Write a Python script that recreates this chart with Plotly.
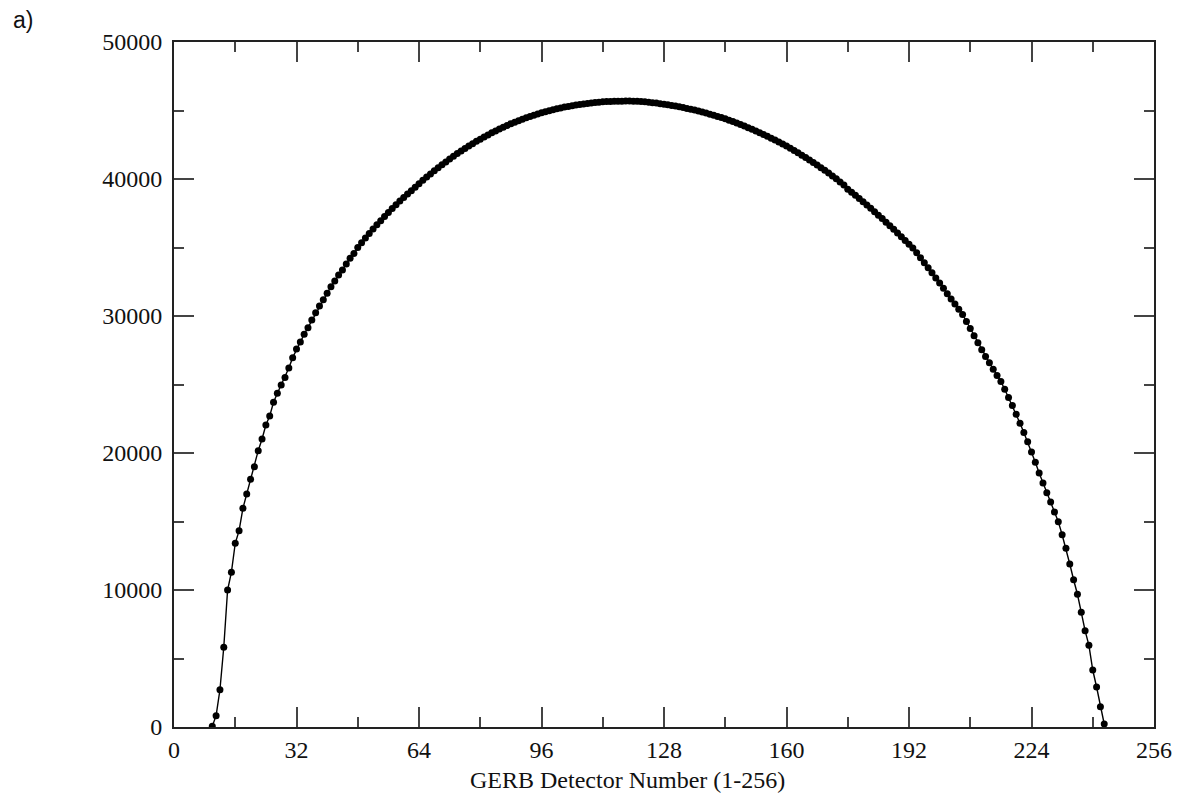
import plotly.graph_objects as go

detector = list(range(10, 244))
signal = [
    50, 825, 2720, 5820, 10000, 11300, 13410, 14330, 15960, 17010,   # 10-19
    18080, 19000, 20170, 21020, 22040, 22700, 23700, 24360, 24960, 25520,  # 20-29
    26200, 26960, 27590, 28100, 28660, 29150, 29700, 30240, 30730, 31190,  # 30-39
    31660, 32140, 32550, 32990, 33360, 33790, 34210, 34570, 35000, 35350,  # 40-49
    35700, 36030, 36350, 36660, 36960, 37260, 37550, 37840, 38120, 38390,  # 50-59
    38650, 38900, 39150, 39400, 39660, 39900, 40140, 40370, 40600, 40820,  # 60-69
    41040, 41250, 41460, 41660, 41860, 42050, 42230, 42410, 42580, 42750,  # 70-79
    42910, 43070, 43220, 43370, 43510, 43650, 43780, 43910, 44030, 44150,  # 80-89
    44260, 44370, 44470, 44570, 44660, 44750, 44830, 44910, 44990, 45060,  # 90-99
    45130, 45190, 45250, 45300, 45350, 45400, 45440, 45480, 45520, 45550,  # 100-109
    45580, 45610, 45630, 45650, 45660, 45670, 45680, 45680, 45690, 45690,  # 110-119
    45680, 45670, 45650, 45630, 45600, 45570, 45540, 45500, 45460, 45420,  # 120-129
    45370, 45320, 45270, 45210, 45150, 45090, 45030, 44960, 44890, 44810,  # 130-139
    44730, 44650, 44570, 44480, 44390, 44290, 44190, 44090, 43980, 43870,  # 140-149
    43750, 43630, 43510, 43380, 43250, 43120, 42980, 42840, 42700, 42550,  # 150-159
    42400, 42240, 42080, 41910, 41740, 41570, 41390, 41210, 41020, 40830,  # 160-169
    40630, 40430, 40220, 40010, 39790, 39570, 39260, 39040, 38810, 38580,  # 170-179
    38340, 38100, 37860, 37610, 37360, 37110, 36850, 36590, 36330, 36060,  # 180-189
    35790, 35520, 35240, 34960, 34610, 34250, 33890, 33520, 33150, 32780,  # 190-199
    32400, 32020, 31630, 31250, 30880, 30500, 30110, 29600, 29080, 28550,  # 200-209
    28050, 27530, 27050, 26580, 26120, 25660, 25220, 24650, 24060, 23460,  # 210-219
    22820, 22170, 21500, 20820, 20080, 19320, 18540, 17810, 17100, 16420,  # 220-229
    15700, 14990, 14030, 13040, 11900, 10750, 9690, 8370, 7030, 5960,     # 230-239
    4160, 2920, 1480, 220,                                                 # 240-243
]

x_ticks = [0, 32, 64, 96, 128, 160, 192, 224, 256]
y_ticks = [0, 10000, 20000, 30000, 40000, 50000]
x_title = "GERB Detector Number (1-256)"
panel_label = "a)"

fig = go.Figure()
fig.add_trace(go.Scatter(
    x=detector, y=signal, mode="lines+markers",
    line=dict(color="black", width=1.4),
    marker=dict(color="black", size=7),
    showlegend=False, hoverinfo="x+y",
))

serif = "Liberation Serif"
axis_common = dict(
    showgrid=False, zeroline=False, showline=True, linecolor="#222", linewidth=2,
    mirror="ticks", ticks="inside", ticklen=20, tickwidth=2, tickcolor="#444",
    tickfont=dict(family=serif, size=24, color="#111"),
)

fig.update_layout(
    width=1186, height=796,
    margin=dict(l=174, r=32, t=42, b=69),
    paper_bgcolor="white", plot_bgcolor="white",
    xaxis=dict(range=[0, 256], tickvals=x_ticks, ticktext=[str(v) for v in x_ticks],
               ticklabelstandoff=0,
               minor=dict(dtick=16, tick0=0, ticks="inside", ticklen=10, tickwidth=2, tickcolor="#444"),
               **axis_common),
    yaxis=dict(range=[0, 50000], tickvals=y_ticks, ticktext=[str(v) for v in y_ticks],
               ticklabelstandoff=5,
               minor=dict(dtick=5000, tick0=0, ticks="inside", ticklen=10, tickwidth=2, tickcolor="#444"),
               **axis_common),
    annotations=[
        dict(text=x_title, xref="paper", yref="paper", x=0.463, y=0, yshift=-53,
             xanchor="center", yanchor="middle", showarrow=False,
             font=dict(family=serif, size=24, color="#111")),
        dict(text=panel_label, xref="paper", yref="paper", x=0, y=1, xshift=-163, yshift=22,
             xanchor="left", yanchor="middle", showarrow=False,
             font=dict(family="Liberation Sans", size=23, color="#111")),
    ],
)

fig.write_html("out.html")
